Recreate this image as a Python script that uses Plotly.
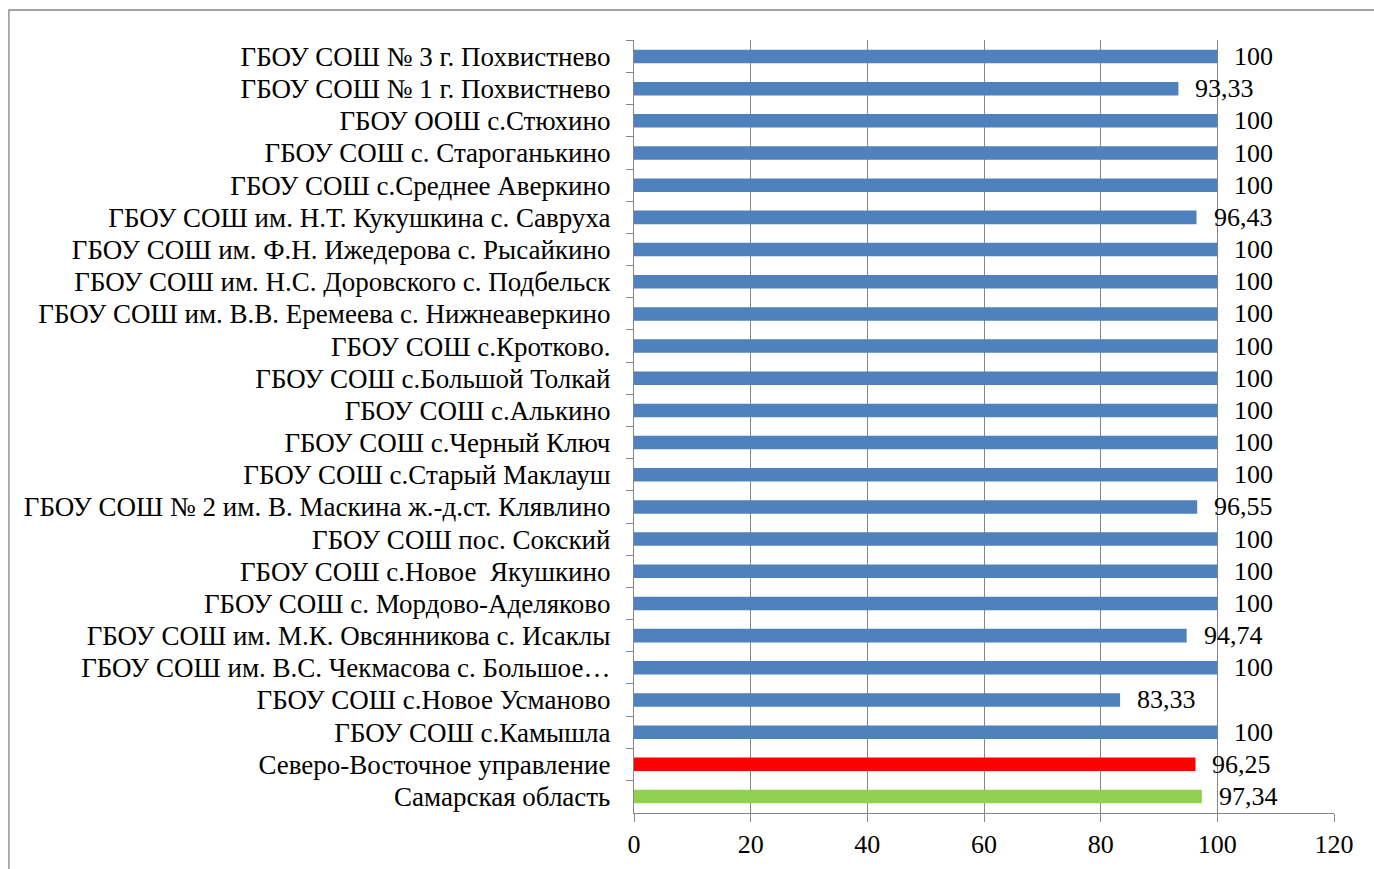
import plotly.graph_objects as go

categories = [
    "ГБОУ СОШ № 3 г. Похвистнево",
    "ГБОУ СОШ № 1 г. Похвистнево",
    "ГБОУ ООШ с.Стюхино",
    "ГБОУ СОШ с. Староганькино",
    "ГБОУ СОШ с.Среднее Аверкино",
    "ГБОУ СОШ им. Н.Т. Кукушкина с. Савруха",
    "ГБОУ СОШ им. Ф.Н. Ижедерова с. Рысайкино",
    "ГБОУ СОШ им. Н.С. Доровского с. Подбельск",
    "ГБОУ СОШ им. В.В. Еремеева с. Нижнеаверкино",
    "ГБОУ СОШ с.Кротково.",
    "ГБОУ СОШ с.Большой Толкай",
    "ГБОУ СОШ с.Алькино",
    "ГБОУ СОШ с.Черный Ключ",
    "ГБОУ СОШ с.Старый Маклауш",
    "ГБОУ СОШ № 2 им. В. Маскина ж.-д.ст. Клявлино",
    "ГБОУ СОШ пос. Сокский",
    "ГБОУ СОШ с.Новое  Якушкино",
    "ГБОУ СОШ с. Мордово-Аделяково",
    "ГБОУ СОШ им. М.К. Овсянникова с. Исаклы",
    "ГБОУ СОШ им. В.С. Чекмасова с. Большое…",
    "ГБОУ СОШ с.Новое Усманово",
    "ГБОУ СОШ с.Камышла",
    "Северо-Восточное управление",
    "Самарская область",
]
values = [100, 93.33, 100, 100, 100, 96.43, 100, 100, 100, 100, 100, 100,
          100, 100, 96.55, 100, 100, 100, 94.74, 100, 83.33, 100, 96.25, 97.34]
bar_colors = ["#4F81BD"] * 22 + ["#FF0000", "#92D050"]
x_ticks = [0, 20, 40, 60, 80, 100, 120]

FONT = "Liberation Serif, Times New Roman, serif"
GRID = "#868686"

labels = [f"{v:g}".replace(".", ",") for v in values]

fig = go.Figure()
fig.add_trace(go.Bar(
    x=values, y=categories, orientation="h",
    marker=dict(color=bar_colors, line=dict(width=0)),
    hoverinfo="x+y",
))

for v, c, t in zip(values, categories, labels):
    fig.add_annotation(x=v, y=c, text=t, showarrow=False, xanchor="left",
                       yanchor="middle", xshift=15,
                       font=dict(family=FONT, size=26, color="#000000"))

fig.update_layout(
    width=1374, height=869,
    margin=dict(l=634, r=40, t=40, b=56),
    paper_bgcolor="white", plot_bgcolor="white",
    bargap=0.58,
    showlegend=False,
    font=dict(family=FONT, size=26, color="#000000"),
    xaxis=dict(
        range=[0, 120], tickvals=x_ticks, showgrid=True, gridcolor=GRID,
        gridwidth=1.3, zeroline=False, showline=True, linecolor=GRID,
        linewidth=1.3, ticks="outside", ticklen=8, tickcolor=GRID,
        tickwidth=1.3, ticklabelstandoff=0, automargin=False,
        tickfont=dict(family=FONT, size=26, color="#000000"),
    ),
    yaxis=dict(
        autorange="reversed", showgrid=False, showline=True, linecolor=GRID,
        linewidth=1.3, ticks="outside", ticklen=7, tickcolor=GRID,
        tickwidth=1.3, tickson="boundaries", ticklabelstandoff=17,
        automargin=False,
        tickfont=dict(family=FONT, size=27, color="#000000"),
    ),
    shapes=[dict(type="rect", xref="paper", yref="paper",
                 x0=-0.893, x1=1.08, y0=-0.1, y1=1.0388,
                 line=dict(color=GRID, width=1.3), layer="below")],
)

fig.write_html("out.html", config={"displayModeBar": False},
               post_script="document.body.style.margin='0';")
